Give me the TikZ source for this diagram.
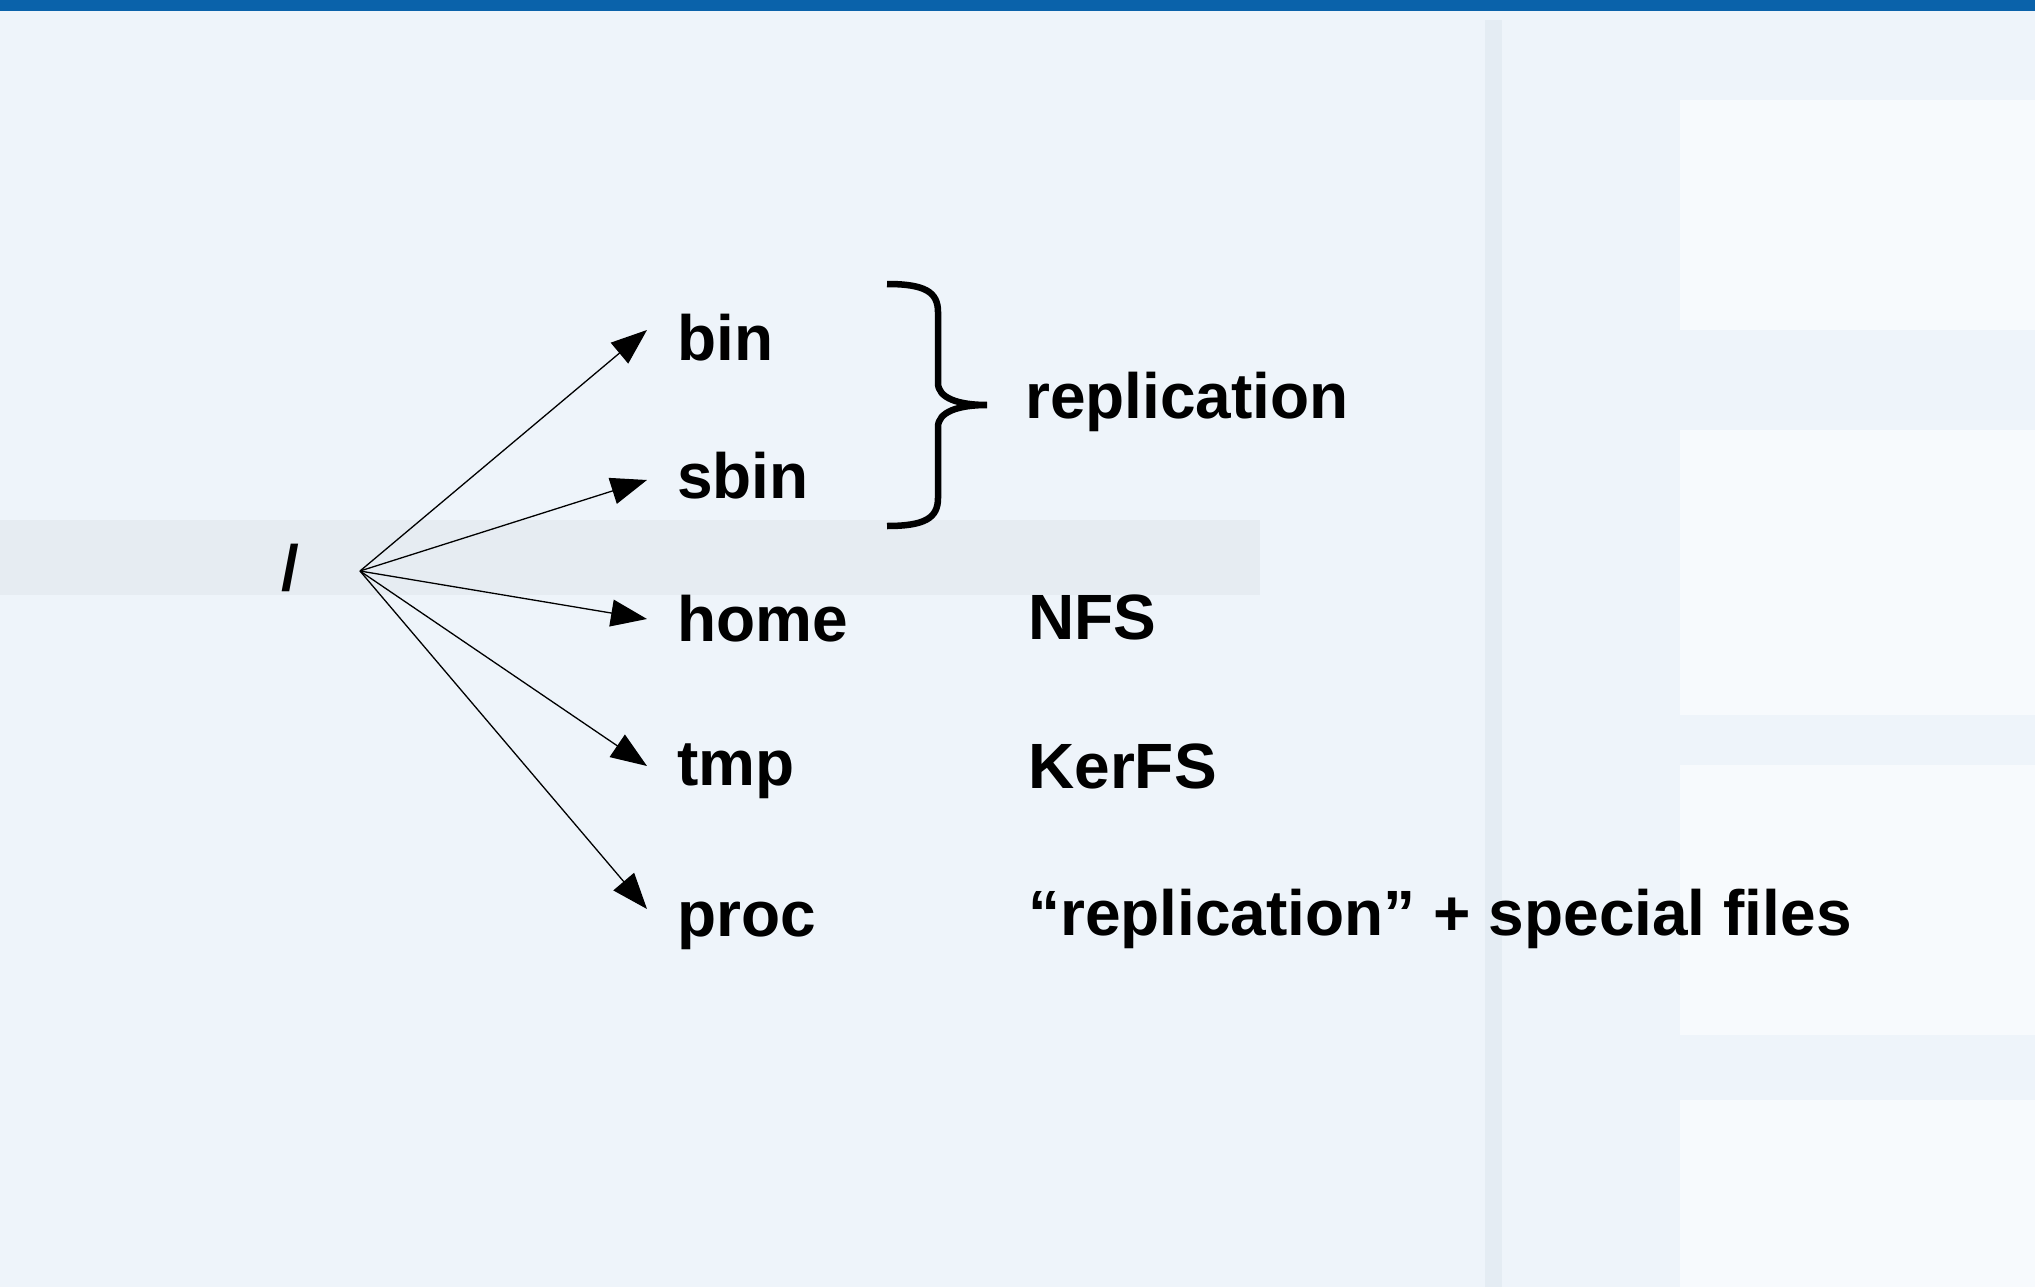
\documentclass[tikz,border=0pt]{standalone}
\usepackage{fontspec}
\setmainfont{Liberation Sans}
\usetikzlibrary{arrows.meta}
\definecolor{bgc}{HTML}{EEF4FA}
\definecolor{barc}{HTML}{0A62AA}
\definecolor{bandc}{HTML}{E3EAEF}
\definecolor{panelc}{HTML}{F7FAFD}
\definecolor{dividerc}{HTML}{E4ECF3}
\tikzset{
  lbl/.style={anchor=base west, inner sep=0pt, font=\fontsize{64}{70}\selectfont\bfseries, text=black},
  fanarrow/.style={-{Triangle[length=36pt,width=27pt]}, line width=1.3pt, black},
  bracestyle/.style={line width=6.5pt, black, line cap=butt}
}
\begin{document}
\begin{tikzpicture}[x=1pt,y=1pt]
\useasboundingbox (0,0) rectangle (2035,-1287);
% background
\fill[bgc] (0,0) rectangle (2035,-1287);
\fill[bandc, opacity=0.7] (0,-520) rectangle (1260,-595);
\fill[dividerc] (1485,-20) rectangle (1502,-1287);
\fill[panelc] (1680,-100) rectangle (2035,-330);
\fill[panelc] (1680,-430) rectangle (2035,-715);
\fill[panelc] (1680,-765) rectangle (2035,-1035);
\fill[panelc] (1680,-1100) rectangle (2035,-1287);
\fill[barc] (0,0) rectangle (2035,-11);
% root
\node[lbl] (root) at (281,-590) {/};
\coordinate (o) at (360,-571);
% children
\node[lbl] (bin)  at (677,-360) {bin};
\node[lbl] (sbin) at (677,-498) {sbin};
\node[lbl] (home) at (677,-641) {home};
\node[lbl] (tmp)  at (677,-785) {tmp};
\node[lbl] (proc) at (677,-936) {proc};
\coordinate (tbin)  at (647,-330);
\coordinate (tsbin) at (647,-480);
\coordinate (thome) at (647,-619);
\coordinate (ttmp)  at (647,-766);
\coordinate (tproc) at (647,-909);
\draw[fanarrow] (o) -- (tbin);
\draw[fanarrow] (o) -- (tsbin);
\draw[fanarrow] (o) -- (thome);
\draw[fanarrow] (o) -- (ttmp);
\draw[fanarrow] (o) -- (tproc);
% brace
\draw[bracestyle] (887,-284) .. controls (925,-284) and (938,-292) .. (938,-312)
  -- (938,-383) .. controls (938,-398) and (958,-405) .. (987,-405)
  .. controls (958,-405) and (938,-412) .. (938,-427)
  -- (938,-498) .. controls (938,-518) and (925,-526) .. (887,-526);
% descriptions
\node[lbl] (repl) at (1025,-418) {replication};
\node[lbl] (nfs) at (1028,-639) {NFS};
\node[lbl] (kerfs) at (1028,-788) {KerFS};
\node[lbl] (procd) at (1028,-935) {“replication” + special files};
\end{tikzpicture}
\end{document}
